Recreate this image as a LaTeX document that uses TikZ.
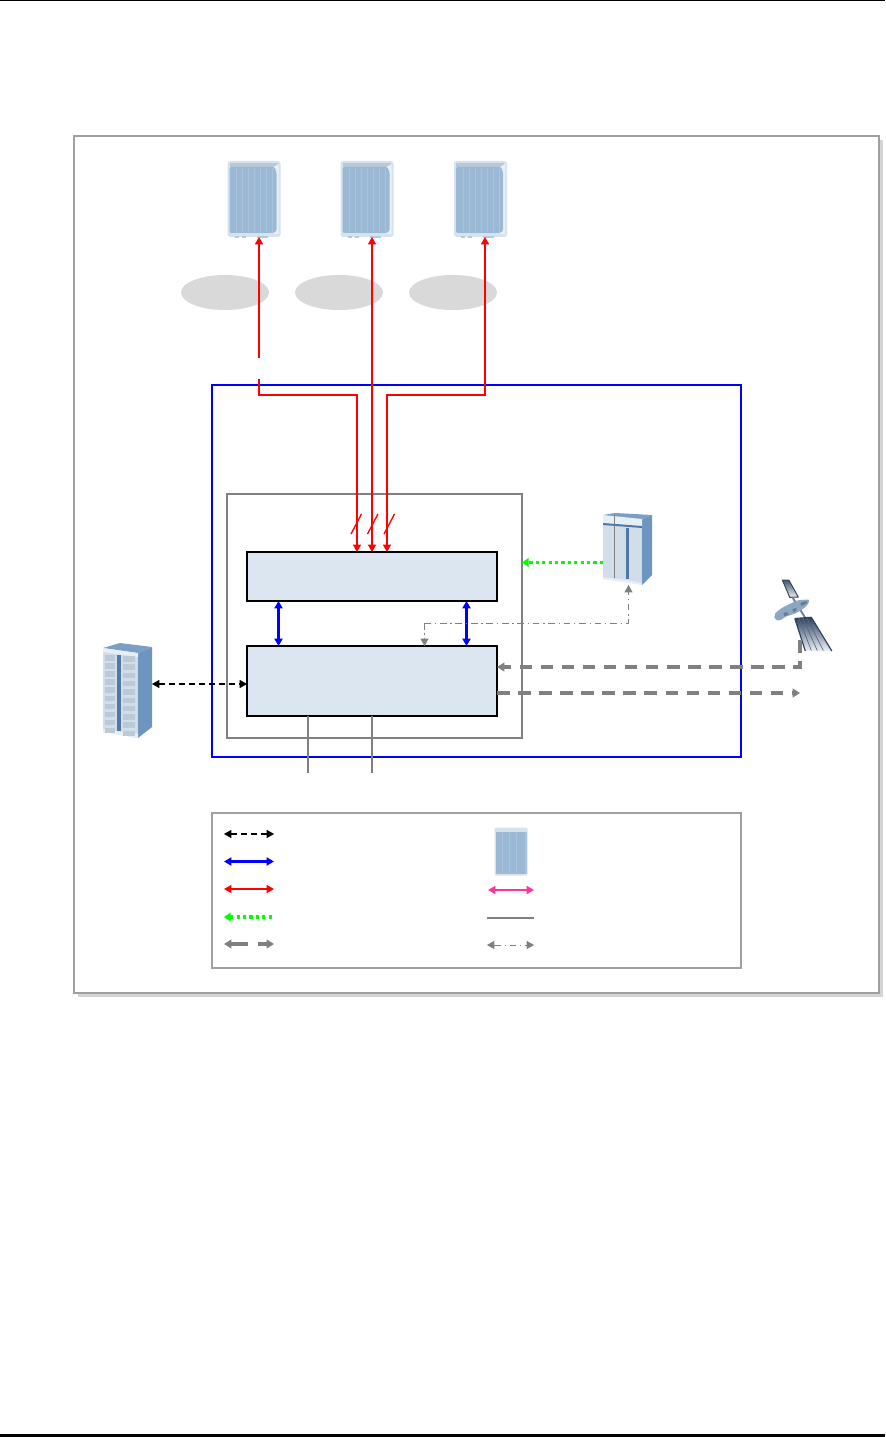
\documentclass[tikz,border=0pt]{standalone}
\usetikzlibrary{arrows.meta}
\definecolor{boxfill}{HTML}{DCE6F1}
\definecolor{frameg}{HTML}{A0A0A0}
\definecolor{midg}{HTML}{808080}
\definecolor{shadowg}{HTML}{D4D4D4}
\definecolor{ellg}{HTML}{D9D9D9}
\definecolor{hotp}{HTML}{FF3399}
\definecolor{rrubody}{HTML}{9BB9D5}
\definecolor{rrustripe}{HTML}{A9C3DC}
\definecolor{rruedge}{HTML}{D6E3EE}
\definecolor{rrutop}{HTML}{B7CADC}
\definecolor{srvfront}{HTML}{D2DDEA}
\definecolor{srvlight}{HTML}{E8EEF5}
\definecolor{srvside}{HTML}{6D95BF}
\definecolor{srvtop}{HTML}{7B9FC4}
\definecolor{srvbar}{HTML}{4F78A4}
\definecolor{srvslot}{HTML}{BCC9D8}
\definecolor{satdark}{HTML}{2E4260}
\definecolor{satbody}{HTML}{8CA6C4}
\tikzset{
  pxbox/.style n args={2}{inner sep=0pt,outer sep=0pt,minimum width=#1*0.75pt,minimum height=#2*0.75pt,anchor=center},
  mainbox/.style={draw=black,fill=boxfill,line width=1.5pt},
  ghost/.style={inner sep=0pt,outer sep=0pt},
  ethl/.style={draw=black,line width=0.9pt,dash pattern=on 4.5pt off 3pt,>={Triangle[length=5.5pt,width=6pt]}},
  busl/.style={draw=blue,line width=2.2pt,>={Triangle[length=5.5pt,width=6pt]}},
  rfl/.style={draw=red,line width=1.1pt,>={Triangle[length=5.5pt,width=6pt]}},
  slashl/.style={draw=red,line width=1pt},
  greenl/.style={draw=green,line width=2.8pt,dash pattern=on 2.4pt off 2.4pt,>={Triangle[length=5pt,width=6.5pt]}},
  gpsl/.style={draw=midg,line width=2.8pt,dash pattern=on 9.4pt off 6.4pt,>={Triangle[length=5.5pt,width=6.5pt]}},
  dotl/.style={draw=midg,line width=0.7pt,dash pattern=on 5pt off 2.8pt on 1pt off 2.8pt,>={Triangle[length=5.5pt,width=6pt]}},
  pinkl/.style={draw=hotp,line width=2.2pt,>={Triangle[length=5.5pt,width=6pt]}},
  greyl/.style={draw=midg,line width=1.5pt},
  rru/.pic={
    \fill[rruedge,rounded corners=2pt] (0,1) rectangle (53,77);
    \fill[rrutop] (2,3) rectangle (50,7);
    \fill[white!45!rruedge] (46,7) -- (51,4) -- (51,74) -- (46,74) -- cycle;
    \fill[rrubody,rounded corners=1pt] (2,7) -- (47,7) -- (49,12) -- (49,71) -- (46,73) -- (2,73) -- cycle;
    \foreach \sx in {9,15,21,27,33,39,45}{\draw[rrustripe,line width=0.5pt] (\sx,8) -- (\sx,72);}
    \fill[rrutop] (7,76) rectangle (11,78);
    \fill[rrutop] (14,76) rectangle (18,78);
    \fill[rrutop] (29,76) rectangle (40,78);
  },
  rruflat/.pic={
    \fill[rruedge,rounded corners=1pt] (0,0) rectangle (33,48);
    \fill[rrubody] (1,4) rectangle (30,46);
    \fill[rrustripe] (30,4) rectangle (32,46);
    \draw[rrustripe,line width=0.3pt] (8,5) -- (8,45) (15,5) -- (15,45) (22,5) -- (22,45);
  },
  srvtower/.pic={
    \fill[srvfront] (0,5) -- (35,10) -- (35,95) -- (0,89) -- cycle;
    \fill[srvside] (35,10) -- (49,4) -- (49,84) -- (35,95) -- cycle;
    \fill[srvtop] (0,5) -- (17,0) -- (49,4) -- (35,10) -- cycle;
    \fill[srvlight] (0,5) -- (35,10) -- (35,14) -- (0,9) -- cycle;
    \fill[srvlight] (0,86) -- (35,91) -- (35,95) -- (0,89) -- cycle;
    \fill[srvbar] (13.5,12) rectangle (18,88);
    \foreach \r in {0,...,9}{
      \fill[srvslot] (2,12+8.1*\r) rectangle (12,17.5+8.1*\r);
      \fill[srvslot] (20,13+8.3*\r) rectangle (32,18.5+8.3*\r);
    }
  },
  srvcab/.pic={
    \fill[srvfront] (0,5) -- (39,6) -- (39,72) -- (28,68) -- (0,66) -- cycle;
    \fill[srvside] (39,6) -- (49,2) -- (49,62) -- (39,72) -- cycle;
    \fill[srvtop] (0,2) -- (12,0) -- (49,2) -- (39,6) -- (0,5) -- cycle;
    \fill[srvlight] (0,2) -- (39,6) -- (39,14) -- (0,10) -- cycle;
    \fill[srvbar] (0,10) -- (39,13) -- (39,15) -- (0,12) -- cycle;
    \fill[srvbar] (23,15) rectangle (26,66);
    \draw[midg,line width=0.4pt] (11.5,2) -- (11.5,66);
    \fill[srvlight] (0,64) -- (24,67) -- (39,70) -- (39,72) -- (0,66) -- cycle;
  },
  satpic/.pic={
    \shade[draw=satdark,line width=0.7pt,top color=satdark!90,bottom color=white!80!satbody] (0,0) -- (6.5,0) -- (16,17) -- (7.5,17.5) -- cycle;
    \draw[satbody!60!satdark,line width=1.4pt] (10,17) -- (23,38);
    \shade[top color=satdark,bottom color=white!85!satbody] (12.5,38.5) -- (29,37.3) -- (49.5,71) -- (23,71) -- cycle;
    \draw[satdark,line width=0.9pt] (12.5,38.5) -- (23,71) (29,37.3) -- (49.5,71) (12.5,38.5) -- (29,37.3);
    \draw[satdark!80,line width=0.5pt] (16.5,38) -- (29,70.5) (20.5,38) -- (35,70.5) (24.5,38) -- (41,70.5);
    \fill[satbody,rounded corners=1.5pt] (-8.3,35) -- (-5.6,31.7) -- (1,27) -- (16,20) -- (27.7,19.5) -- (24.7,26) -- (14.5,33) -- (3,36.7) -- (-2,40.7) -- (-7.3,40) -- cycle;
    \fill[satdark!70] (1,33) -- (5,32) -- (6,35) -- (2,36) -- cycle;
    \fill[satdark!70] (10,29) -- (14,28) -- (14,31) -- (11,32) -- cycle;
    \fill[satdark!70] (18,23) -- (24,21) -- (25,23) -- (19,26) -- cycle;
  },
}
\begin{document}
\begin{tikzpicture}[x=0.75pt,y=-0.75pt]
\useasboundingbox (0,0) rectangle (885,1437);
% page rules
\coordinate (hdA) at (0,0.5); \coordinate (hdB) at (885,0.5);
\coordinate (ftA) at (0,1435.5); \coordinate (ftB) at (885,1435.5);
\draw[black,line width=1.2pt] (hdA) -- (hdB);
\draw[black,line width=1.6pt] (ftA) -- (ftB);
% outer frame
\fill[shadowg] (78,140) rectangle (883,997);
\draw[frameg,fill=white,line width=1.5pt] (74,136.5) rectangle (878.5,993);
% cloud ellipses
\fill[ellg] (225,292.5) ellipse [x radius=44,y radius=17.5];
\fill[ellg] (339,292.5) ellipse [x radius=44,y radius=17.5];
\fill[ellg] (453,292.5) ellipse [x radius=44,y radius=17.5];
% frames
\node[pxbox={529}{372},draw=blue,line width=1.5pt] (bluebox) at (476.5,571) {};
\node[pxbox={295}{244},draw=midg,line width=1.5pt] (greybox) at (374.5,616) {};
\node[pxbox={250}{49},mainbox] (boxA) at (372,576.5) {};
\node[pxbox={250}{70},mainbox] (boxB) at (372,681) {};
\node[pxbox={529}{155},draw=frameg,line width=1.5pt] (legend) at (476.5,890.5) {};
% icons
\node[pxbox={53}{77},ghost] (rruA) at (254,198.5) {};
\node[pxbox={53}{77},ghost] (rruB) at (367,198.5) {};
\node[pxbox={53}{77},ghost] (rruC) at (481,198.5) {};
\pic at (227.5,160) {rru};
\pic at (340.5,160) {rru};
\pic at (454,160) {rru};
\node[pxbox={49}{95},ghost] (srvA) at (127.5,690.5) {};
\pic at (103,643) {srvtower};
\node[pxbox={49}{72},ghost] (srvB) at (627.5,549) {};
\pic at (603,513) {srvcab};
\node[pxbox={50}{71},ghost] (sat) at (807,615) {};
\pic at (782.3,580) {satpic};
\pic at (494.5,827.5) {rruflat};
% free ends
\coordinate (gapA) at (259,358);
\coordinate (gapB) at (259,379);
\coordinate (bendA) at (259,395);
\coordinate (bendB) at (357,395);
\coordinate (bendC) at (485,395);
\coordinate (bendD) at (387,395);
\coordinate (cabCorner) at (628.5,623);
\coordinate (boxCorner) at (424.5,623);
\coordinate (satA) at (800,640);
\coordinate (satB) at (800,667);
\coordinate (satC) at (800,693);
\coordinate (rxIn) at (497,667);
\coordinate (txOut) at (497,693);
\coordinate (portA) at (308,773);
\coordinate (portB) at (372,773);
% red links
\draw[rfl,->] (gapA) -- (gapA |- rruA.south);
\draw[rfl,->] (gapB) -- (bendA) -- (bendB) -- (bendB |- boxA.north);
\draw[rfl,<->] (rruB.south -| boxA.north) -- (boxA.north);
\draw[rfl,<->] (bendC |- rruC.south) -- (bendC) -- (bendD) -- (bendD |- boxA.north);
\draw[slashl] (351,534) -- (361.5,514);
\draw[slashl] (367.5,534) -- (378,514);
\draw[slashl] (384,534) -- (394.5,514);
% inter-box buses
\draw[busl,<->] (278.5,601) -- (278.5,646);
\draw[busl,<->] (466.5,601) -- (466.5,646);
% side links
\draw[greenl,->] (srvB.west |- 0,562.5) -- (greybox.east |- 0,562.5);
\draw[dotl,->] (boxCorner) -- (boxCorner |- boxB.north);
\draw[dotl,->] (boxCorner) -- (cabCorner) -- (cabCorner |- srvB.south);
\draw[gpsl,->] (satA) -- (satB) -- (rxIn);
\draw[gpsl,->] (txOut) -- (satC);
\draw[ethl,<->] (srvA.east |- 0,684) -- (boxB.west |- 0,684);
\draw[greyl] (portA |- boxB.south) -- (portA);
\draw[greyl] (boxB.south) -- (portB);
% legend samples
\coordinate (lgA1) at (224,834); \coordinate (lgA2) at (274,834);
\coordinate (lgB1) at (224,861.5); \coordinate (lgB2) at (274,861.5);
\coordinate (lgC1) at (224,889); \coordinate (lgC2) at (274,889);
\coordinate (lgD1) at (224,917); \coordinate (lgD2) at (274,917);
\coordinate (lgE1) at (224,944); \coordinate (lgE2) at (274,944);
\coordinate (lgF1) at (488,890); \coordinate (lgF2) at (534,890);
\coordinate (lgG1) at (487,917.5); \coordinate (lgG2) at (534,917.5);
\coordinate (lgH1) at (487,945); \coordinate (lgH2) at (534,945);
\draw[ethl,<->] (lgA1) -- (lgA2);
\draw[busl,<->] (lgB1) -- (lgB2);
\draw[rfl,<->] (lgC1) -- (lgC2);
\draw[greenl,<-] (lgD1) -- (lgD2);
\draw[gpsl,<->,dash pattern=on 13pt off 7pt] (lgE1) -- (lgE2);
\draw[pinkl,<->] (lgF1) -- (lgF2);
\draw[greyl] (lgG1) -- (lgG2);
\draw[dotl,<->] (lgH1) -- (lgH2);
\end{tikzpicture}
\end{document}
